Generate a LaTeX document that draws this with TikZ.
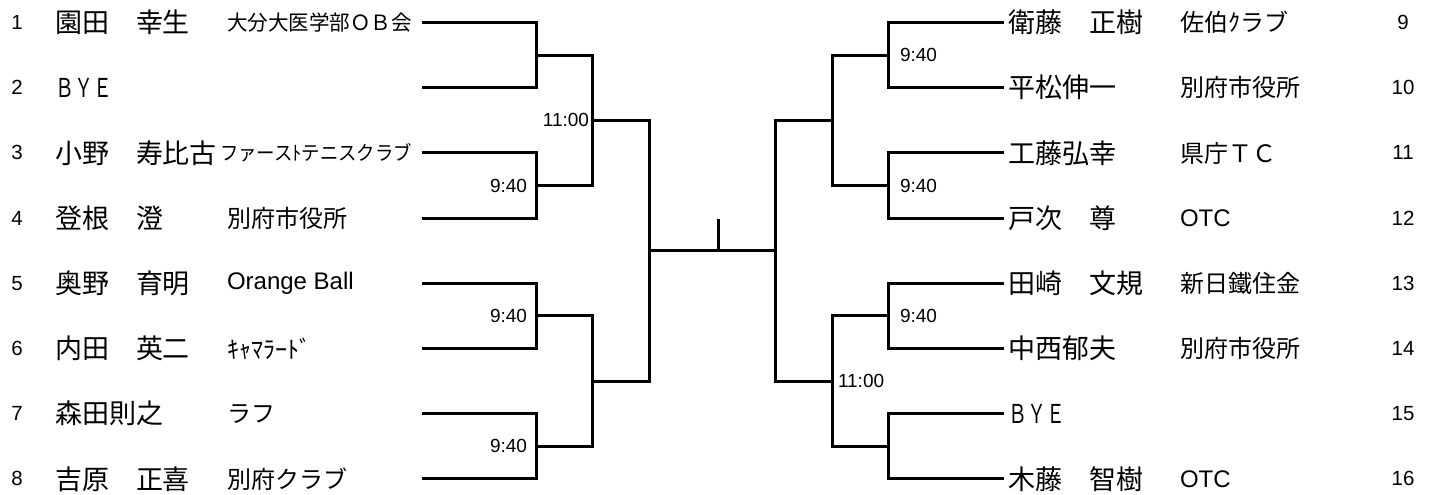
\documentclass[tikz,border=0pt]{standalone}
\usepackage{fontspec}
\setmainfont{Liberation Sans}
\newfontfamily\jpfont{Noto Sans CJK JP}
\usetikzlibrary{positioning}
\tikzset{>=stealth}
\newcommand{\squeeze}[2]{\resizebox{#1}{\height}{#2}}

\begin{document}
\begin{tikzpicture}[x=1pt, y=-1pt, inner sep=0pt, outer sep=0pt,
  seed/.style={font=\fontsize{20.5}{20.5}\selectfont},
  player/.style={anchor=west, font=\jpfont\fontsize{27}{27}\selectfont},
  club/.style={anchor=west, font=\jpfont\fontsize{24}{24}\selectfont},
  time/.style={font=\fontsize{19}{19}\selectfont},
  bracket/.style={line width=3pt}]
\useasboundingbox (0,0) rectangle (1433,495);
% left half
\node[seed] (n1) at (17,22.5) {1};
\node[seed] (n2) at (17,87.7) {2};
\node[seed] (n3) at (17,152.9) {3};
\node[seed] (n4) at (17,218.1) {4};
\node[seed] (n5) at (17,283.3) {5};
\node[seed] (n6) at (17,348.5) {6};
\node[seed] (n7) at (17,413.7) {7};
\node[seed] (n8) at (17,478.9) {8};
\node[player] (p1) at (55,22.5) {園田　幸生};
\node[player] (p2) at (55,87.7) {\squeeze{57pt}{\fontsize{26}{26}\selectfont ＢＹＥ}};
\node[player] (p3) at (55,152.9) {小野　寿比古};
\node[player] (p4) at (55,218.1) {登根　澄};
\node[player] (p5) at (55,283.3) {奥野　育明};
\node[player] (p6) at (55,348.5) {内田　英二};
\node[player] (p7) at (55,413.7) {森田則之};
\node[player] (p8) at (55,478.9) {吉原　正喜};
\node[club] (c1) at (227,22.5) {\squeeze{185pt}{\fontsize{21}{21}\selectfont 大分大医学部ＯＢ会}};
\node[club] (c3) at (220,152.9) {\squeeze{192pt}{\fontsize{20}{20}\selectfont ファースﾄテニスクラブ}};
\node[club] (c4) at (227,218.1) {別府市役所};
\node[club] (c5) at (227,283.3) {\rmfamily Orange Ball};
\node[club] (c6) at (227,348.5) {ｷｬﾏﾗｰﾄﾞ};
\node[club] (c7) at (227,413.7) {ラフ};
\node[club] (c8) at (227,478.9) {別府クラブ};
\coordinate (a1) at (422,22.5);
\coordinate (a2) at (422,87.7);
\coordinate (a3) at (422,152.9);
\coordinate (a4) at (422,218.1);
\coordinate (a5) at (422,283.3);
\coordinate (a6) at (422,348.5);
\coordinate (a7) at (422,413.7);
\coordinate (a8) at (422,478.9);
\coordinate (j12) at (536,55.1);
\coordinate (j34) at (536,185.5);
\coordinate (j56) at (536,315.9);
\coordinate (j78) at (536,446.3);
\coordinate (j14) at (592,120.3);
\coordinate (j58) at (592,381.1);
\coordinate (jL) at (649,250.7);
% right half
\node[seed] (n9) at (1403,22.5) {9};
\node[seed] (n10) at (1403,87.7) {10};
\node[seed] (n11) at (1403,152.9) {11};
\node[seed] (n12) at (1403,218.1) {12};
\node[seed] (n13) at (1403,283.3) {13};
\node[seed] (n14) at (1403,348.5) {14};
\node[seed] (n15) at (1403,413.7) {15};
\node[seed] (n16) at (1403,478.9) {16};
\node[player] (p9) at (1008,22.5) {衛藤　正樹};
\node[player] (p10) at (1008,87.7) {平松伸一};
\node[player] (p11) at (1008,152.9) {工藤弘幸};
\node[player] (p12) at (1008,218.1) {戸次　尊};
\node[player] (p13) at (1008,283.3) {田崎　文規};
\node[player] (p14) at (1008,348.5) {中西郁夫};
\node[player] (p15) at (1008,413.7) {\squeeze{57pt}{\fontsize{26}{26}\selectfont ＢＹＥ}};
\node[player] (p16) at (1008,478.9) {木藤　智樹};
\node[club] (c9) at (1180,22.5) {佐伯ｸラブ};
\node[club] (c10) at (1180,87.7) {別府市役所};
\node[club] (c11) at (1180,152.9) {県庁ＴＣ};
\node[club] (c12) at (1180,218.1) {\rmfamily OTC};
\node[club] (c13) at (1180,283.3) {新日鐵住金};
\node[club] (c14) at (1180,348.5) {別府市役所};
\node[club] (c16) at (1180,478.9) {\rmfamily OTC};
\coordinate (b9) at (1004,22.5);
\coordinate (b10) at (1004,87.7);
\coordinate (b11) at (1004,152.9);
\coordinate (b12) at (1004,218.1);
\coordinate (b13) at (1004,283.3);
\coordinate (b14) at (1004,348.5);
\coordinate (b15) at (1004,413.7);
\coordinate (b16) at (1004,478.9);
\coordinate (j910) at (888,55.1);
\coordinate (j1112) at (888,185.5);
\coordinate (j1314) at (888,315.9);
\coordinate (j1516) at (888,446.3);
\coordinate (j912) at (832,120.3);
\coordinate (j1316) at (832,381.1);
\coordinate (jR) at (775,250.7);
\coordinate (tick) at (718,219);
% brackets
\draw[bracket] (a1) -| (j12) |- (a2);
\draw[bracket] (a3) -| (j34) |- (a4);
\draw[bracket] (a5) -| (j56) |- (a6);
\draw[bracket] (a7) -| (j78) |- (a8);
\draw[bracket] (j12) -| (j14) |- (j34);
\draw[bracket] (j56) -| (j58) |- (j78);
\draw[bracket] (j14) -| (jL) |- (j58);
\draw[bracket] (jL) -- (jR);
\draw[bracket] (tick) -- (tick |- jL);
\draw[bracket] (b9) -| (j910) |- (b10);
\draw[bracket] (b11) -| (j1112) |- (b12);
\draw[bracket] (b13) -| (j1314) |- (b14);
\draw[bracket] (b15) -| (j1516) |- (b16);
\draw[bracket] (j910) -| (j912) |- (j1112);
\draw[bracket] (j1314) -| (j1316) |- (j1516);
\draw[bracket] (j912) -| (jR) |- (j1316);
% times
\node[time, left=9pt of j34] (t34) {9:40};
\node[time, left=9pt of j56] (t56) {9:40};
\node[time, left=9pt of j78] (t78) {9:40};
\node[time, left=3pt of j14] (t14) {11:00};
\node[time, right=12pt of j910] (t910) {9:40};
\node[time, right=12pt of j1112] (t1112) {9:40};
\node[time, right=12pt of j1314] (t1314) {9:40};
\node[time, right=6pt of j1316] (t1316) {11:00};
\end{tikzpicture}
\end{document}
